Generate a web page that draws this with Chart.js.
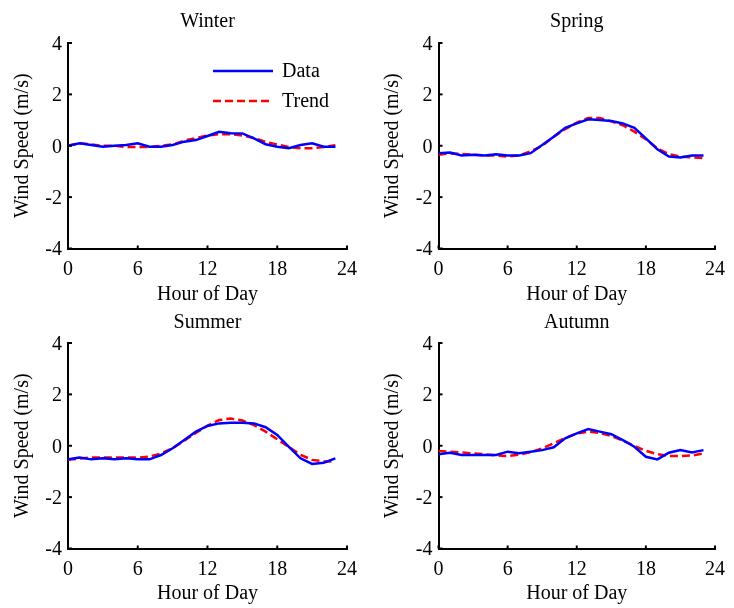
<!DOCTYPE html>
<html>
<head>
<meta charset="utf-8">
<script src="https://cdn.jsdelivr.net/npm/chart.js@4.4.1/dist/chart.umd.min.js"></script>
<style>
  html, body { margin: 0; padding: 0; background: #fff; }
  body { width: 734px; height: 608px; position: relative; overflow: hidden; }
  canvas { position: absolute; }
</style>
</head>
<body>
<canvas id="c0"></canvas>
<canvas id="c1"></canvas>
<canvas id="c2"></canvas>
<canvas id="c3"></canvas>
<script>
// ---- data ----
const hours = [0,1,2,3,4,5,6,7,8,9,10,11,12,13,14,15,16,17,18,19,20,21,22,23];
const xTicks = [0, 6, 12, 18, 24];
const yTicks = [-4, -2, 0, 2, 4];
const seasons = ["Winter", "Spring", "Summer", "Autumn"];
const seriesLabels = ["Data", "Trend"];

const winterData  = [0.00,0.10,0.03,-0.04,0.00,0.03,0.10,-0.04,-0.04,0.03,0.16,0.22,0.38,0.54,0.49,0.48,0.29,0.06,-0.04,-0.10,0.03,0.10,-0.04,-0.04];
const winterTrend = [0.00,0.10,0.05,0.00,0.00,-0.05,-0.05,-0.05,0.00,0.05,0.20,0.30,0.40,0.45,0.45,0.40,0.30,0.15,0.05,-0.05,-0.10,-0.10,-0.05,0.02];

const springData  = [-0.29,-0.26,-0.38,-0.35,-0.38,-0.33,-0.38,-0.38,-0.29,0.03,0.35,0.70,0.87,1.03,1.00,0.96,0.87,0.70,0.29,-0.14,-0.42,-0.46,-0.38,-0.38];
const springTrend = [-0.35,-0.30,-0.32,-0.35,-0.38,-0.38,-0.42,-0.38,-0.22,0.00,0.35,0.65,0.90,1.08,1.08,0.95,0.80,0.55,0.25,-0.10,-0.33,-0.42,-0.45,-0.48];

const summerData  = [-0.53,-0.46,-0.53,-0.49,-0.53,-0.49,-0.53,-0.53,-0.36,-0.10,0.22,0.55,0.77,0.87,0.90,0.90,0.87,0.72,0.42,-0.04,-0.49,-0.71,-0.66,-0.49];
const summerTrend = [-0.55,-0.50,-0.46,-0.46,-0.46,-0.46,-0.46,-0.42,-0.30,-0.10,0.20,0.50,0.78,1.00,1.06,0.98,0.80,0.55,0.25,-0.05,-0.35,-0.55,-0.60,-0.62];

const autumnData  = [-0.33,-0.27,-0.36,-0.36,-0.36,-0.36,-0.23,-0.29,-0.23,-0.17,-0.06,0.29,0.48,0.65,0.55,0.45,0.22,-0.04,-0.43,-0.53,-0.27,-0.17,-0.26,-0.17];
const autumnTrend = [-0.20,-0.23,-0.26,-0.30,-0.33,-0.38,-0.40,-0.35,-0.25,-0.10,0.10,0.30,0.48,0.55,0.50,0.38,0.20,0.00,-0.20,-0.33,-0.40,-0.40,-0.38,-0.30];

const dataSeries  = [winterData, springData, summerData, autumnData];
const trendSeries = [winterTrend, springTrend, summerTrend, autumnTrend];

// ---- layout ----
const FONT = "'Liberation Serif', 'Times New Roman', serif";
Chart.defaults.font.family = FONT;
Chart.defaults.font.size = 20;
Chart.defaults.color = '#000';

const panels = [
  { left: 0,   top: 0,   w: 367, h: 308, yW: 68,   padR: 20,   tTop: 10, tBot: 9,  yTitlePad: 10.5, xTitlePad: 1.5, legend: true },
  { left: 367, top: 0,   w: 367, h: 308, yW: 71.5, padR: 16.5, tTop: 10, tBot: 9,  yTitlePad: 14,   xTitlePad: 1.5, legend: false },
  { left: 0,   top: 300, w: 367, h: 308, yW: 68,   padR: 20,   tTop: 11, tBot: 8,  yTitlePad: 10.5, xTitlePad: 2,   legend: false },
  { left: 367, top: 300, w: 367, h: 308, yW: 71.5, padR: 16.5, tTop: 11, tBot: 8,  yTitlePad: 14,   xTitlePad: 2,   legend: false }
];
const PLOT_BOTTOM = 248.5;

const inwardTicks = {
  id: 'inwardTicks',
  afterDatasetsDraw(chart) {
    const { ctx, chartArea, scales } = chart;
    ctx.save();
    ctx.strokeStyle = '#000';
    ctx.lineWidth = 2;
    scales.x.ticks.forEach(t => {
      const px = scales.x.getPixelForValue(t.value);
      ctx.beginPath(); ctx.moveTo(px, chartArea.bottom); ctx.lineTo(px, chartArea.bottom - 3); ctx.stroke();
    });
    scales.y.ticks.forEach(t => {
      const py = scales.y.getPixelForValue(t.value);
      ctx.beginPath(); ctx.moveTo(chartArea.left, py); ctx.lineTo(chartArea.left + 4, py); ctx.stroke();
    });
    ctx.restore();
  }
};

const insetLegend = {
  id: 'insetLegend',
  afterDraw(chart, args, opts) {
    if (!opts.show) return;
    const { ctx, chartArea } = chart;
    const x0 = chartArea.left + 145, y0 = chartArea.top + 28, len = 60, rowH = 30;
    ctx.save();
    chart.data.datasets.forEach((d, i) => {
      const y = y0 + i * rowH;
      ctx.strokeStyle = d.borderColor;
      ctx.lineWidth = d.borderWidth;
      ctx.setLineDash(d.borderDash || []);
      ctx.beginPath(); ctx.moveTo(x0, y); ctx.lineTo(x0 + len, y); ctx.stroke();
      ctx.setLineDash([]);
      ctx.fillStyle = '#000';
      ctx.font = '20px ' + FONT;
      ctx.textBaseline = 'middle';
      ctx.textAlign = 'left';
      ctx.fillText(d.label, x0 + len + 9, y + 1);
    });
    ctx.restore();
  }
};

panels.forEach((p, i) => {
  const cv = document.getElementById('c' + i);
  cv.width = p.w; cv.height = p.h;
  cv.style.left = p.left + 'px'; cv.style.top = p.top + 'px';
  cv.style.width = p.w + 'px'; cv.style.height = p.h + 'px';
  new Chart(cv, {
    type: 'line',
    data: {
      datasets: [
        { label: seriesLabels[0], data: hours.map((h, k) => ({ x: h, y: dataSeries[i][k] })),
          borderColor: '#0000ff', borderWidth: 2.5, pointRadius: 0, tension: 0, fill: false },
        { label: seriesLabels[1], data: hours.map((h, k) => ({ x: h, y: trendSeries[i][k] })),
          borderColor: '#ff0000', borderWidth: 2.5, borderDash: [8, 4], pointRadius: 0, tension: 0, fill: false }
      ]
    },
    options: {
      responsive: false,
      animation: false,
      devicePixelRatio: 1,
      layout: { padding: { left: 0, right: p.padR, top: 0, bottom: 0 } },
      plugins: {
        legend: { display: false },
        tooltip: { enabled: false },
        title: { display: true, text: seasons[i], fullSize: false,
                 font: { size: 20, weight: 'normal', family: FONT, lineHeight: 1.2 },
                 color: '#000', padding: { top: p.tTop, bottom: p.tBot } },
        insetLegend: { show: p.legend }
      },
      scales: {
        x: {
          type: 'linear', min: 0, max: 24,
          afterBuildTicks: s => { s.ticks = xTicks.map(v => ({ value: v })); },
          afterFit: s => { s.height = p.h - PLOT_BOTTOM; },
          grid: { display: false, drawTicks: false },
          border: { display: true, color: '#000', width: 2 },
          ticks: { padding: 9, maxRotation: 0, autoSkip: false, color: '#000', font: { size: 20, family: FONT } },
          title: { display: true, text: 'Hour of Day', color: '#000',
                   font: { size: 20, family: FONT, lineHeight: 1.2 }, padding: { top: 0, bottom: p.xTitlePad } }
        },
        y: {
          type: 'linear', min: -4, max: 4,
          afterBuildTicks: s => { s.ticks = yTicks.map(v => ({ value: v })); },
          afterFit: s => { s.width = p.yW; },
          grid: { display: false, drawTicks: false },
          border: { display: true, color: '#000', width: 2 },
          ticks: { padding: 6, labelOffset: 1.5, autoSkip: false, color: '#000', font: { size: 20, family: FONT } },
          title: { display: true, text: 'Wind Speed (m/s)', color: '#000',
                   font: { size: 20, family: FONT, lineHeight: 1.2 }, padding: { top: p.yTitlePad, bottom: 0 } }
        }
      }
    },
    plugins: [inwardTicks, insetLegend]
  });
});
</script>
</body>
</html>
